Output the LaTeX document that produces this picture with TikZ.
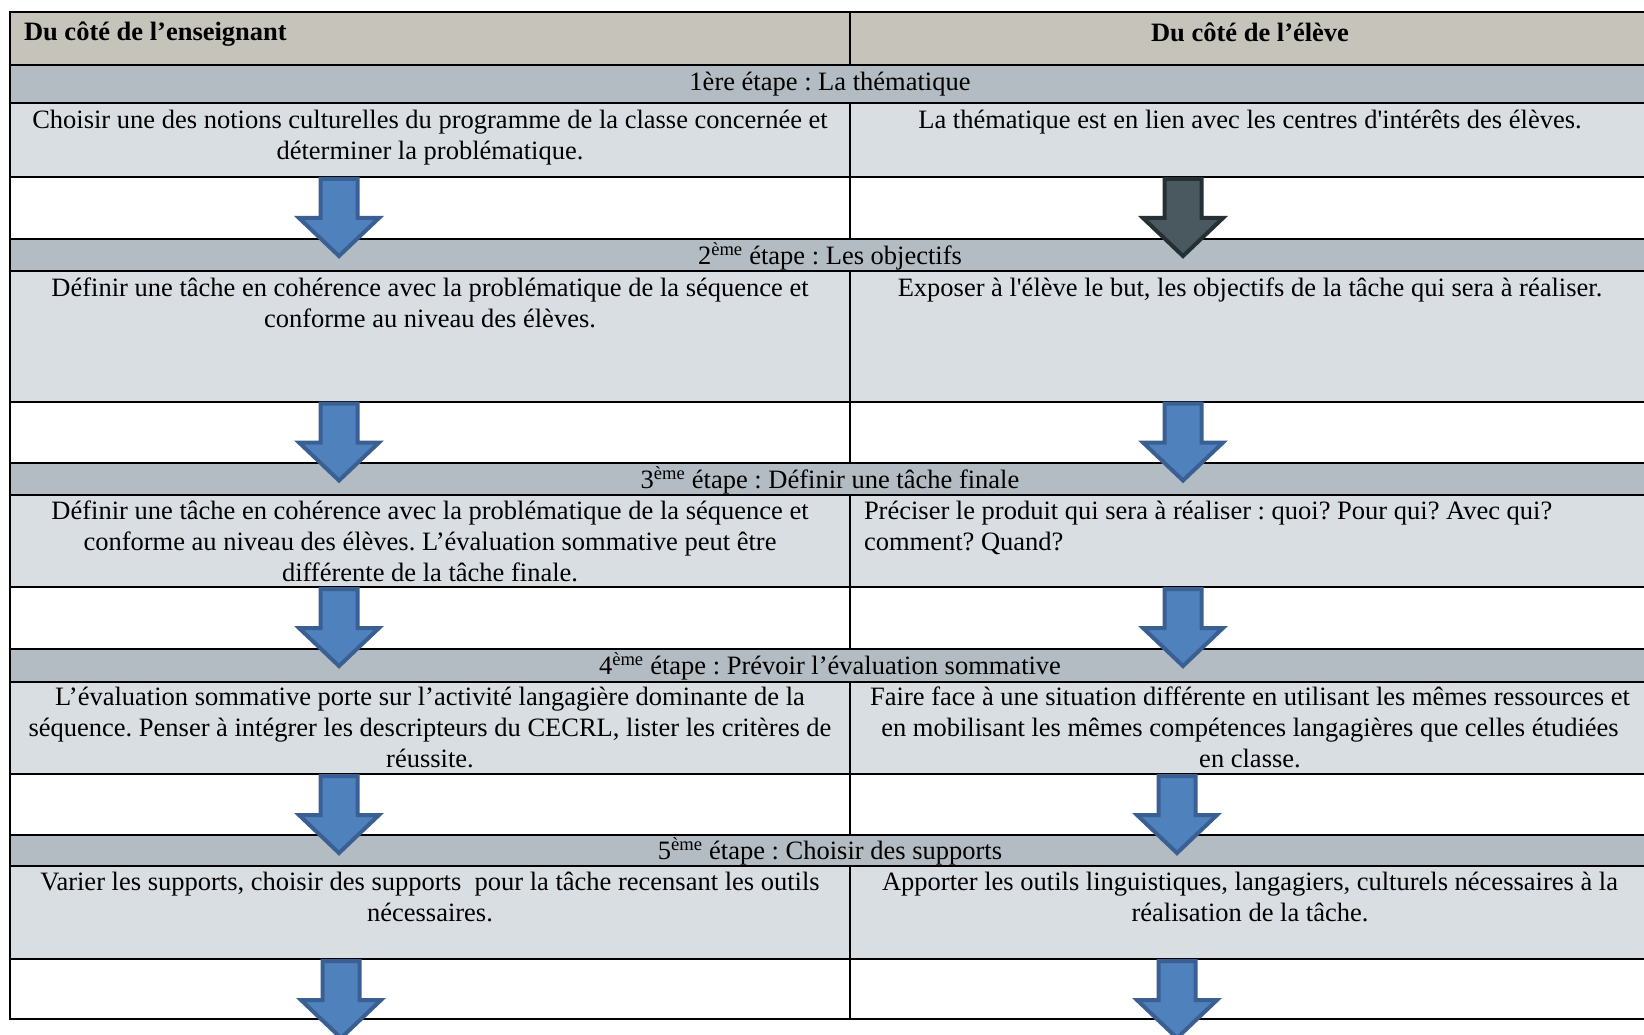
\documentclass[tikz,border=0pt]{standalone}
\usepackage{fontspec}
\setmainfont{Liberation Serif}[Ligatures=TeXOff]

\definecolor{entete}{HTML}{C6C3BB}
\definecolor{bandeau}{HTML}{B2BCC2}
\definecolor{cellule}{HTML}{D9DEE2}
\definecolor{bleuflec}{HTML}{4F81BD}
\definecolor{bleubord}{HTML}{3A6093}
\definecolor{sombreflec}{HTML}{4A5960}
\definecolor{sombrebord}{HTML}{253035}

\frenchspacing

\tikzset{
	    trait/.style={
					line width=2pt,
					black
	    },
	    texte/.style={
					inner sep=0pt,
					outer sep=0pt,
					align=center,
					font=\fontsize{26.5}{31}\selectfont
	    },
	    fleche/.style={
					line width=4pt,
					line join=miter
	    }
		}

% fleche vers le bas : x du centre, y du haut, remplissage, bord
\newcommand{\flechebas}[4]{
			\draw[fleche, draw=#4, fill=#3] (#1-18.5,#2+2) -- (#1+18.5,#2+2) -- (#1+18.5,#2+41) -- (#1+40,#2+41) -- (#1,#2+79) -- (#1-40,#2+41) -- (#1-18.5,#2+41) -- cycle;
}

\begin{document}
\begin{tikzpicture}[x=1pt,y=-1pt]
			\useasboundingbox (0,0) rectangle (1644,1035);

			% fonds
			\fill[entete] (10,12.5) rectangle (1650,65);
			\foreach \h/\b in {65/103, 239/270.5, 462.5/495, 649/681.5, 834.5/866}
				\fill[bandeau] (10,\h) rectangle (1650,\b);
			\foreach \h/\b in {103/177, 270.5/401.5, 495/587, 681.5/774, 866/959}
				\fill[cellule] (10,\h) rectangle (1650,\b);

			% lignes
			\foreach \y in {12.5,65,103,177,239,270.5,401.5,462.5,495,587,649,681.5,774,834.5,866,959,1019}
				\draw[trait] (9,\y) -- (1651,\y);
			\draw[trait] (10,12.5) to (10,1019);
			\draw[trait] (1650,12.5) to (1650,1019);
			\foreach \h/\b in {12.5/65, 103/239, 270.5/462.5, 495/649, 681.5/834.5, 866/1019}
				\draw[trait] (850,\h) to (850,\b);

			% en-tetes
			\node[texte, anchor=west, font=\fontsize{26.5}{31}\selectfont\bfseries] (entG) at (24,34) {Du côté de l’enseignant};
			\node[texte, font=\fontsize{26.5}{31}\selectfont\bfseries] (entD) at (1250,32) {Du côté de l’élève};

			% etapes
			\node[texte] (etape1) at (830,84) {1ère étape : La thématique};
			\node[texte] (etape2) at (830,256) {2\textsuperscript{ème} étape : Les objectifs};
			\node[texte] (etape3) at (830,480) {3\textsuperscript{ème} étape : Définir une tâche finale};
			\node[texte] (etape4) at (830,666) {4\textsuperscript{ème} étape : Prévoir l’évaluation sommative};
			\node[texte] (etape5) at (830,851) {5\textsuperscript{ème} étape : Choisir des supports};

			% enseignant
			\node[texte, anchor=north] (ens1) at (430,110) {Choisir une des notions culturelles du programme de la classe concernée et\\déterminer la problématique.};
			\node[texte, anchor=north] (ens2) at (430,278) {Définir une tâche en cohérence avec la problématique de la séquence et\\conforme au niveau des élèves.};
			\node[texte, anchor=north] (ens3) at (430,501) {Définir une tâche en cohérence avec la problématique de la séquence et\\conforme au niveau des élèves. L’évaluation sommative peut être\\différente de la tâche finale.};
			\node[texte, anchor=north] (ens4) at (430,687) {L’évaluation sommative porte sur l’activité langagière dominante de la\\séquence. Penser à intégrer les descripteurs du CECRL, lister les critères de\\réussite.};
			\node[texte, anchor=north] (ens5) at (430,872) {Varier les supports, choisir des supports\ \ pour la tâche recensant les outils\\nécessaires.};

			% eleve
			\node[texte, anchor=north] (elv1) at (1250,110) {La thématique est en lien avec les centres d'intérêts des élèves.};
			\node[texte, anchor=north] (elv2) at (1250,278) {Exposer à l'élève le but, les objectifs de la tâche qui sera à réaliser.};
			\node[texte, anchor=north west, align=left] (elv3) at (864,501) {Préciser le produit qui sera à réaliser : quoi? Pour qui? Avec qui?\\comment? Quand?};
			\node[texte, anchor=north] (elv4) at (1250,687) {Faire face à une situation différente en utilisant les mêmes ressources et\\en mobilisant les mêmes compétences langagières que celles étudiées\\en classe.};
			\node[texte, anchor=north] (elv5) at (1250,872) {Apporter les outils linguistiques, langagiers, culturels nécessaires à la\\réalisation de la tâche.};

			% fleches
			\foreach \x/\y in {339/177, 339/401.5, 339/587, 339/774, 341/959}
				\flechebas{\x}{\y}{bleuflec}{bleubord};
			\flechebas{1183}{177}{sombreflec}{sombrebord};
			\foreach \x/\y in {1183/401.5, 1183/587, 1177/774, 1177/959}
				\flechebas{\x}{\y}{bleuflec}{bleubord};
		\end{tikzpicture}
\end{document}
